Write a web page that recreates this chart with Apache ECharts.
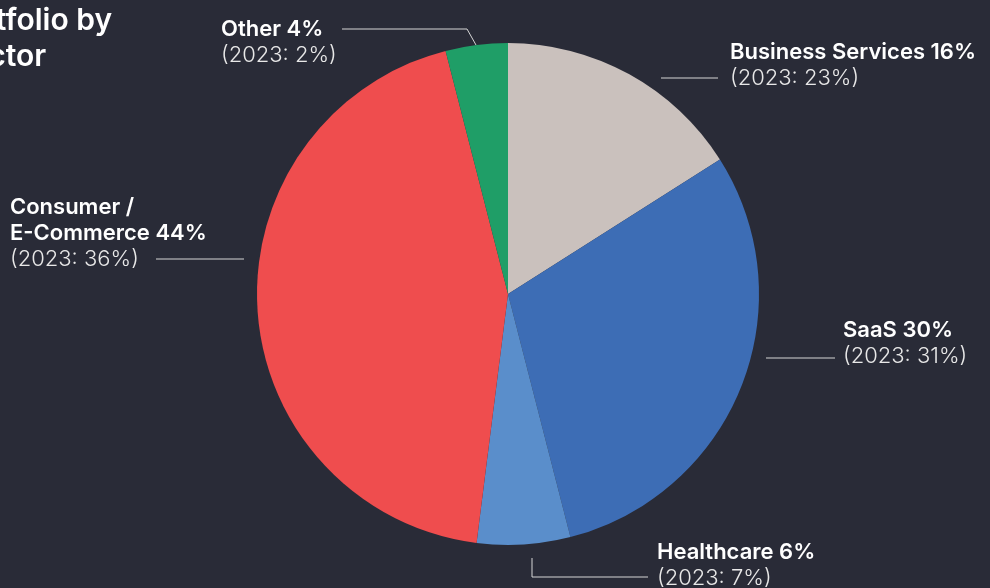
<!DOCTYPE html>
<html><head><meta charset="utf-8">
<script src="https://cdn.jsdelivr.net/npm/echarts@6/dist/echarts.min.js"></script>
<style>html,body{margin:0;padding:0;background:#292b37;}#c{width:990px;height:588px;}</style>
</head><body><div id="c"></div>
<script>
const categories = ['Business Services', 'SaaS', 'Healthcare', 'Consumer /\nE-Commerce', 'Other'];
const share2024 = [16, 30, 6, 44, 4];
const share2023 = [23, 31, 7, 36, 2];
const colors = ['#cac1bd', '#3d6db5', '#5a8ecb', '#ef4d4e', '#1f9e67'];
const titleLines = ['Portfolio by', 'Sector'];

const FONT = 'Inter, "Noto Sans", sans-serif';
const cx = 508, cy = 294, R = 251;
// label anchor (top-left of text block) and label line points, relative to pie centre
const labelPlace = [
  {x: 222, y: -255, line: [[153, -216], [210, -216]]},
  {x: 335, y: 23, line: [[258, 64], [327, 64]]},
  {x: 149, y: 245, line: [[24, 264], [24, 283], [140, 283]]},
  {x: -498, y: -100, line: [[-352, -35], [-264, -35]]},
  {x: -287, y: -278, line: [[-32, -249], [-41, -265], [-166, -265]]}
];

const chart = echarts.init(document.getElementById('c'));
chart.setOption({
  backgroundColor: '#292b37',
  animation: false,
  graphic: [
    {type: 'text', left: -54, top: 6, style: {text: titleLines[0], fill: '#ffffff', font: '600 30px ' + FONT}},
    {type: 'text', left: -49, top: 42, style: {text: titleLines[1], fill: '#ffffff', font: '600 30px ' + FONT}}
  ],
  series: [{
    type: 'pie',
    center: [cx, cy],
    radius: R,
    startAngle: 90,
    clockwise: true,
    silent: true,
    data: categories.map((c, i) => ({name: c, value: share2024[i], itemStyle: {color: colors[i]}})),
    label: {
      show: true,
      position: 'outside',
      formatter: p => {
        const i = p.dataIndex;
        return categories[i].split('\n').map((s, k, a) => '{b|' + s + (k === a.length - 1 ? ' ' + share2024[i] + '%' : '') + '}').join('\n')
          + '\n{s|(2023: ' + share2023[i] + '%)}';
      },
      rich: {
        b: {color: '#ffffff', fontFamily: FONT, fontWeight: 600, fontSize: 22, lineHeight: 26},
        s: {color: '#e8e8e8', fontFamily: FONT, fontWeight: 300, fontSize: 22, lineHeight: 26}
      }
    },
    labelLine: {show: true, lineStyle: {color: '#d6d6d6', width: 1}},
    labelLayout: p => {
      const L = labelPlace[p.dataIndex];
      return {
        x: cx + L.x, y: cy + L.y, align: 'left', verticalAlign: 'top',
        labelLinePoints: L.line.map(q => [cx + q[0], cy + q[1]])
      };
    }
  }]
});
</script></body></html>
